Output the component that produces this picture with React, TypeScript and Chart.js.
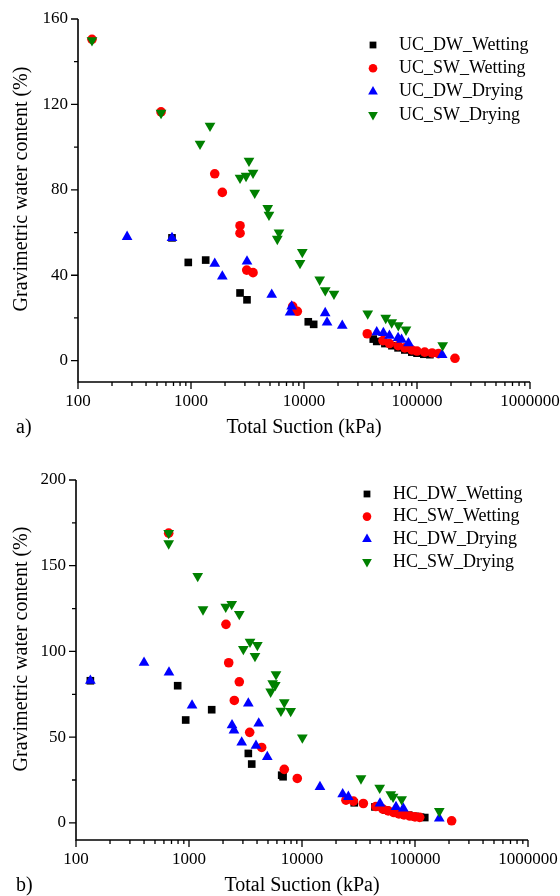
import React, { useEffect, useRef } from 'react';
import { Chart, registerables } from 'chart.js';

Chart.register(...registerables);

const FONT = '"Liberation Serif", "Times New Roman", Times, serif';

// ---------- Panel a) data ----------
const ucDwWetX = [679, 946, 1349, 2716, 3130, 10910, 12180, 41000, 44000, 52000, 60000, 68000, 78000, 90000, 100000, 115000, 130000];
const ucDwWetY = [57.5, 46, 47.1, 31.7, 28.5, 18.2, 17, 10.1, 9, 8, 7, 6, 5, 4, 3.5, 3, 2.8];

const ucSwWetX = [133, 543, 1622, 1893, 2716, 2716, 3112, 3540, 7940, 8730, 36300, 50000, 57000, 68000, 78000, 90000, 100000, 117000, 136000, 155000, 216800];
const ucSwWetY = [150.5, 116.5, 87.5, 78.8, 63.2, 59.7, 42.4, 41.2, 25.4, 23.1, 12.6, 9.4, 8, 7, 6, 5, 4.5, 4, 3.6, 3.3, 1.1];

const ucDwDryX = [272, 679, 1622, 1893, 3130, 5180, 7780, 7530, 15400, 16000, 21800, 44000, 50400, 57000, 68000, 73000, 84000, 167000];
const ucDwDryY = [58, 57.5, 45.4, 39.4, 46.5, 30.9, 25.4, 22.6, 22.3, 17.9, 16.4, 13.3, 13, 11.7, 10.6, 9.8, 8.2, 2.7];

const ucSwDryX = [133, 543, 1202, 1473, 3260, 2716, 3069, 3540, 3664, 4775, 4898, 6010, 5806, 9660, 9220, 13770, 15420, 18420, 36640, 52880, 59730, 68340, 79910, 168700];
const ucSwDryY = [150, 116, 101.5, 110, 93.6, 85.6, 86.5, 88, 78.6, 71.4, 68.3, 60, 57, 50.8, 45.7, 37.9, 32.9, 31.3, 22, 20, 17.9, 16.5, 14.5, 7.2];

// ---------- Panel b) data ----------
const hcDwWetX = [134, 794, 935, 1588, 3350, 3590, 6610, 6800, 29000, 44200, 55000, 65000, 75000, 88000, 100000, 112000, 122000];
const hcDwWetY = [82.9, 80, 60, 66, 40.5, 34.3, 27.8, 26.9, 11.7, 9.3, 7.5, 6.5, 5.5, 4.5, 3.8, 3.3, 3.1];

const hcSwWetX = [661, 2124, 2246, 2787, 2518, 3444, 4395, 6970, 9080, 24500, 28500, 34900, 45000, 52000, 58000, 65000, 72000, 80000, 90000, 100000, 110000, 211000];
const hcSwWetY = [169, 115.8, 93.4, 82.3, 71.4, 52.8, 44, 31.2, 25.9, 13.2, 12.7, 11.3, 9.5, 8, 7, 6, 5.2, 4.6, 4, 3.5, 3.2, 1.2];

const hcDwDryX = [134, 400, 665, 1064, 2403, 2500, 3350, 4140, 2927, 3917, 4930, 14420, 22900, 25700, 49000, 67900, 78800, 164000];
const hcDwDryY = [82.9, 93.4, 87.8, 68.5, 57, 54, 69.7, 58, 46.9, 45, 38.5, 21, 16.7, 15.2, 11.3, 9.3, 8.4, 2.6];

const hcSwDryX = [661, 661, 1194, 1330, 2113, 2388, 2787, 3467, 4027, 3027, 3837, 5890, 5500, 5800, 5280, 6970, 6510, 7940, 10070, 33260, 48700, 61000, 64000, 76200, 164000];
const hcSwDryY = [169, 163, 144, 124.5, 126, 127.6, 121.8, 105.6, 103.7, 101.4, 97.3, 86.6, 81.4, 80.4, 76.5, 70.3, 65.4, 65.2, 49.8, 25.9, 20.4, 16.7, 15.2, 13.7, 6.8];

// ---------- axes ----------
const xDecades = [100, 1000, 10000, 100000, 1000000];
const xTickLabels = ['100', '1000', '10000', '100000', '1000000'];
const yTicksA = [0, 40, 80, 120, 160];
const yMinorA = [20, 60, 100, 140];
const yTicksB = [0, 50, 100, 150, 200];
const yMinorB = [25, 75, 125, 175];

const xTitle = 'Total Suction (kPa)';
const yTitle = 'Gravimetric water content (%)';

type Style = 'rect' | 'circle' | 'up' | 'down';
interface Series { label: string; x: number[]; y: number[]; color: string; style: Style; }

const seriesA: Series[] = [
  { label: 'UC_DW_Wetting', x: ucDwWetX, y: ucDwWetY, color: '#000000', style: 'rect' },
  { label: 'UC_SW_Wetting', x: ucSwWetX, y: ucSwWetY, color: '#ff0000', style: 'circle' },
  { label: 'UC_DW_Drying', x: ucDwDryX, y: ucDwDryY, color: '#0000ff', style: 'up' },
  { label: 'UC_SW_Drying', x: ucSwDryX, y: ucSwDryY, color: '#008000', style: 'down' },
];
const seriesB: Series[] = [
  { label: 'HC_DW_Wetting', x: hcDwWetX, y: hcDwWetY, color: '#000000', style: 'rect' },
  { label: 'HC_SW_Wetting', x: hcSwWetX, y: hcSwWetY, color: '#ff0000', style: 'circle' },
  { label: 'HC_DW_Drying', x: hcDwDryX, y: hcDwDryY, color: '#0000ff', style: 'up' },
  { label: 'HC_SW_Drying', x: hcSwDryX, y: hcSwDryY, color: '#008000', style: 'down' },
];

function drawMarker(ctx: CanvasRenderingContext2D, style: Style, x: number, y: number, r: number, color: string) {
  ctx.save();
  ctx.fillStyle = color;
  ctx.beginPath();
  if (style === 'rect') {
    const s = r * Math.SQRT1_2;
    ctx.rect(x - s, y - s, 2 * s, 2 * s);
  } else if (style === 'circle') {
    ctx.arc(x, y, r, 0, Math.PI * 2);
  } else {
    const dir = style === 'up' ? 1 : -1;
    for (let i = 0; i < 3; i++) {
      const ang = (i * 2 * Math.PI) / 3;
      const px = x + Math.sin(ang) * r;
      const py = y - dir * Math.cos(ang) * r;
      if (i === 0) ctx.moveTo(px, py); else ctx.lineTo(px, py);
    }
    ctx.closePath();
  }
  ctx.fill();
  ctx.restore();
}

interface PanelProps {
  top: number;
  height: number;
  padding: { left: number; right: number; top: number; bottom: number };
  series: Series[];
  yMin: number;
  yMax: number;
  yTicks: number[];
  yMinor: number[];
  tag: string;
  yTitleY: number;
  legend: { mx: number; tx: number; y0: number; dy: number };
}

function Panel(props: PanelProps) {
  const ref = useRef<HTMLCanvasElement | null>(null);
  useEffect(() => {
    const canvas = ref.current;
    if (!canvas) return;
    const { series, yMin, yMax, yTicks, yMinor, tag, yTitleY, legend, padding } = props;

    const radiusFor = (s: Style) => (s === 'rect' ? 5.4 : s === 'circle' ? 4.8 : 6.2);

    const datasets = series.map((s, i) => ({
      label: s.label,
      data: s.x.map((xv, j) => ({ x: xv, y: s.y[j] })),
      pointStyle: s.style === 'rect' ? 'rect' : s.style === 'circle' ? 'circle' : 'triangle',
      rotation: s.style === 'down' ? 180 : 0,
      pointRadius: radiusFor(s.style),
      pointHoverRadius: radiusFor(s.style),
      pointBackgroundColor: s.color,
      pointBorderColor: s.color,
      pointBorderWidth: 0,
      backgroundColor: s.color,
      borderColor: s.color,
      showLine: false,
      order: series.length - 1 - i,
      clip: false as any,
    }));

    const axesPlugin = {
      id: 'originAxes',
      afterDraw(chart: any) {
        const ctx: CanvasRenderingContext2D = chart.ctx;
        const a = chart.chartArea;
        const xs = chart.scales.x;
        const ys = chart.scales.y;
        ctx.save();
        ctx.strokeStyle = '#000';
        ctx.fillStyle = '#000';
        ctx.lineWidth = 1.6;
        // axis lines
        ctx.beginPath();
        ctx.moveTo(a.left, a.top);
        ctx.lineTo(a.left, a.bottom);
        ctx.lineTo(a.right, a.bottom);
        ctx.stroke();
        // x ticks
        ctx.lineWidth = 1.3;
        ctx.beginPath();
        xDecades.forEach((d) => {
          const px = xs.getPixelForValue(d);
          ctx.moveTo(px, a.bottom);
          ctx.lineTo(px, a.bottom + 7);
        });
        xDecades.slice(0, -1).forEach((d) => {
          for (let k = 2; k <= 9; k++) {
            const px = xs.getPixelForValue(d * k);
            ctx.moveTo(px, a.bottom);
            ctx.lineTo(px, a.bottom + 4);
          }
        });
        // y ticks
        yTicks.forEach((v) => {
          const py = ys.getPixelForValue(v);
          ctx.moveTo(a.left, py);
          ctx.lineTo(a.left - 7, py);
        });
        yMinor.forEach((v) => {
          const py = ys.getPixelForValue(v);
          ctx.moveTo(a.left, py);
          ctx.lineTo(a.left - 4, py);
        });
        ctx.stroke();

        // tick labels
        ctx.font = `17px ${FONT}`;
        ctx.textAlign = 'center';
        ctx.textBaseline = 'middle';
        xDecades.forEach((d, i) => {
          ctx.fillText(xTickLabels[i], xs.getPixelForValue(d), a.bottom + 20);
        });
        ctx.textAlign = 'right';
        yTicks.forEach((v) => {
          ctx.fillText(String(v), a.left - 10, ys.getPixelForValue(v));
        });

        // titles
        ctx.font = `20px ${FONT}`;
        ctx.textAlign = 'center';
        ctx.fillText(xTitle, (a.left + a.right) / 2, a.bottom + 46);
        ctx.textAlign = 'left';
        ctx.fillText(tag, 16, a.bottom + 46);
        ctx.save();
        ctx.translate(22, yTitleY);
        ctx.rotate(-Math.PI / 2);
        ctx.textAlign = 'center';
        ctx.fillText(yTitle, 0, 0);
        ctx.restore();

        // legend
        ctx.font = `18px ${FONT}`;
        ctx.textAlign = 'left';
        series.forEach((s, i) => {
          const ly = legend.y0 + i * legend.dy;
          const r = s.style === 'rect' ? 4.8 : s.style === 'circle' ? 4.3 : 5.6;
          drawMarker(ctx, s.style, legend.mx, ly, r, s.color);
          ctx.fillStyle = '#000';
          ctx.fillText(s.label, legend.tx, ly);
        });
        ctx.restore();
      },
    };

    const chart = new Chart(canvas, {
      type: 'scatter',
      data: { datasets: datasets as any },
      options: {
        animation: false,
        responsive: false,
        maintainAspectRatio: false,
        devicePixelRatio: 1,
        layout: { padding },
        scales: {
          x: { type: 'logarithmic', min: 100, max: 1000000, display: false },
          y: { type: 'linear', min: yMin, max: yMax, display: false },
        },
        plugins: {
          legend: { display: false },
          tooltip: { enabled: false },
        },
        events: [],
      },
      plugins: [axesPlugin],
    });
    return () => chart.destroy();
  }, []);

  return (
    <canvas
      ref={ref}
      width={560}
      height={props.height}
      style={{ position: 'absolute', left: 0, top: props.top, width: 560, height: props.height }}
    />
  );
}

export default function App() {
  return (
    <div style={{ position: 'absolute', left: 0, top: 0, width: 560, height: 896, background: '#fff', overflow: 'hidden' }}>
      <Panel
        top={0}
        height={448}
        padding={{ left: 78, right: 30, top: 19, bottom: 66 }}
        series={seriesA}
        yMin={-10}
        yMax={160}
        yTicks={yTicksA}
        yMinor={yMinorA}
        tag="a)"
        yTitleY={189}
        legend={{ mx: 373, tx: 399, y0: 45, dy: 23.3 }}
      />
      <Panel
        top={448}
        height={448}
        padding={{ left: 76, right: 32, top: 32, bottom: 56 }}
        series={seriesB}
        yMin={-10}
        yMax={200}
        yTicks={yTicksB}
        yMinor={yMinorB}
        tag="b)"
        yTitleY={201}
        legend={{ mx: 367, tx: 393, y0: 494 - 448, dy: 22.6 }}
      />
    </div>
  );
}
